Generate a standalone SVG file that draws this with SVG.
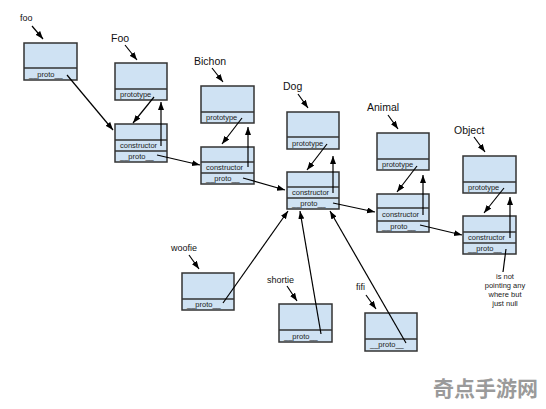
<svg xmlns="http://www.w3.org/2000/svg" width="546" height="409" viewBox="0 0 546 409">
<style>
.box{fill:#cfe2f3;stroke:#333;stroke-width:1.5}
.div{stroke:#333;stroke-width:1.3;fill:none}
.t{font-family:"Liberation Sans",Arial,sans-serif;font-size:7.5px;fill:#222}
.lbl{font-family:"Liberation Sans",Arial,sans-serif;font-size:10.5px;fill:#111}
.lbs{font-family:"Liberation Sans",Arial,sans-serif;font-size:9px;fill:#111}
.note{font-family:"Liberation Sans",Arial,sans-serif;font-size:7.5px;fill:#222;text-anchor:middle}
.c{stroke:#000;stroke-width:1.2;fill:none;marker-end:url(#ah)}
.wm{font-family:"Noto Sans CJK SC",sans-serif;font-size:21px;font-weight:bold;fill:#9a9a9a}
</style>
<defs>
<marker id="ah" markerUnits="userSpaceOnUse" markerWidth="9" markerHeight="7" refX="8" refY="3" orient="auto">
<path d="M0,0 L8,3 L0,6 z" fill="#000"/>
</marker>
</defs>
<rect width="546" height="409" fill="#fff"/>

<g id="foo">
<text class="lbs" x="20" y="21">foo</text>
<rect class="box" x="24" y="43" width="53" height="37"/>
<line class="div" x1="24" y1="68" x2="77" y2="68"/>
<text class="t" x="29" y="77">__proto__</text>
</g>

<g id="Foo">
<text class="lbl" x="111" y="42">Foo</text>
<rect class="box" x="115" y="63" width="52" height="37"/>
<line class="div" x1="115" y1="89" x2="167" y2="89"/>
<text class="t" x="120" y="97">prototype</text>
</g>
<g id="Foo-prototype">
<rect class="box" x="115" y="124" width="52" height="38"/>
<line class="div" x1="115" y1="140" x2="167" y2="140"/>
<line class="div" x1="115" y1="151" x2="167" y2="151"/>
<text class="t" x="120" y="148">constructor</text>
<text class="t" x="120" y="159">__proto__</text>
</g>

<g id="Bichon">
<text class="lbl" x="194" y="65">Bichon</text>
<rect class="box" x="201" y="86" width="53" height="37"/>
<line class="div" x1="201" y1="112" x2="254" y2="112"/>
<text class="t" x="206" y="120">prototype</text>
</g>
<g id="Bichon-prototype">
<rect class="box" x="201" y="147" width="53" height="37"/>
<line class="div" x1="201" y1="162" x2="254" y2="162"/>
<line class="div" x1="201" y1="173" x2="254" y2="173"/>
<text class="t" x="206" y="170">constructor</text>
<text class="t" x="206" y="181">__proto__</text>
</g>

<g id="Dog">
<text class="lbl" x="283" y="90">Dog</text>
<rect class="box" x="287" y="112" width="52" height="37"/>
<line class="div" x1="287" y1="137" x2="339" y2="137"/>
<text class="t" x="292" y="146">prototype</text>
</g>
<g id="Dog-prototype">
<rect class="box" x="287" y="172" width="52" height="37"/>
<line class="div" x1="287" y1="187" x2="339" y2="187"/>
<line class="div" x1="287" y1="198" x2="339" y2="198"/>
<text class="t" x="292" y="195">constructor</text>
<text class="t" x="292" y="206">__proto__</text>
</g>

<g id="Animal">
<text class="lbl" x="367" y="111">Animal</text>
<rect class="box" x="377" y="133" width="52" height="37"/>
<line class="div" x1="377" y1="159" x2="429" y2="159"/>
<text class="t" x="382" y="167">prototype</text>
</g>
<g id="Animal-prototype">
<rect class="box" x="377" y="194" width="52" height="38"/>
<line class="div" x1="377" y1="208" x2="429" y2="208"/>
<line class="div" x1="377" y1="221" x2="429" y2="221"/>
<text class="t" x="382" y="217">constructor</text>
<text class="t" x="382" y="229">__proto__</text>
</g>

<g id="Object">
<text class="lbl" x="454" y="134">Object</text>
<rect class="box" x="463" y="156" width="53" height="37"/>
<line class="div" x1="463" y1="182" x2="516" y2="182"/>
<text class="t" x="468" y="190">prototype</text>
</g>
<g id="Object-prototype">
<rect class="box" x="463" y="216" width="53" height="38"/>
<line class="div" x1="463" y1="232" x2="516" y2="232"/>
<line class="div" x1="463" y1="243" x2="516" y2="243"/>
<text class="t" x="468" y="240">constructor</text>
<text class="t" x="468" y="251">__proto__</text>
</g>

<g id="null-note">
<text class="note" x="505" y="279">is not</text>
<text class="note" x="505" y="288">pointing any</text>
<text class="note" x="505" y="297">where but</text>
<text class="note" x="505" y="306">just null</text>
</g>

<g id="woofie">
<text class="lbs" x="171" y="251">woofie</text>
<rect class="box" x="182" y="273" width="52" height="37"/>
<line class="div" x1="182" y1="299" x2="234" y2="299"/>
<text class="t" x="187" y="307">__proto__</text>
</g>

<g id="shortie">
<text class="lbs" x="267" y="283">shortie</text>
<rect class="box" x="279" y="304" width="53" height="38"/>
<line class="div" x1="279" y1="330" x2="332" y2="330"/>
<text class="t" x="284" y="339">__proto__</text>
</g>

<g id="fifi">
<text class="lbs" x="356" y="290">fifi</text>
<rect class="box" x="365" y="313" width="52" height="38"/>
<line class="div" x1="365" y1="339" x2="417" y2="339"/>
<text class="t" x="370" y="347">__proto__</text>
</g>

<g id="connectors">
<line class="c" x1="32" y1="26" x2="43" y2="39"/>
<line class="c" x1="125" y1="45" x2="137" y2="60"/>
<line class="c" x1="212" y1="68" x2="223" y2="82"/>
<line class="c" x1="298" y1="94" x2="308" y2="108"/>
<line class="c" x1="388" y1="115" x2="398" y2="129"/>
<line class="c" x1="474" y1="137" x2="485" y2="152"/>
<line class="c" x1="189" y1="255" x2="199" y2="269"/>
<line class="c" x1="287" y1="286" x2="297" y2="301"/>
<line class="c" x1="366" y1="295" x2="376" y2="309"/>

<line class="c" x1="67" y1="75" x2="113" y2="130"/>
<line class="c" x1="154" y1="97" x2="133" y2="123"/>
<line class="c" x1="161" y1="146" x2="161" y2="102"/>
<line class="c" x1="157" y1="155" x2="200" y2="165"/>
<line class="c" x1="242" y1="118" x2="222" y2="144"/>
<line class="c" x1="248" y1="167" x2="248" y2="127"/>
<line class="c" x1="243" y1="178" x2="285" y2="190"/>
<line class="c" x1="327" y1="144" x2="307" y2="170"/>
<line class="c" x1="333" y1="193" x2="333" y2="156"/>
<line class="c" x1="333" y1="203" x2="375" y2="212"/>
<line class="c" x1="417" y1="166" x2="397" y2="192"/>
<line class="c" x1="423" y1="215" x2="423" y2="175"/>
<line class="c" x1="420" y1="225" x2="462" y2="235"/>
<line class="c" x1="504" y1="188" x2="484" y2="213"/>
<line class="c" x1="510" y1="238" x2="510" y2="197"/>
<line x1="506" y1="249" x2="503" y2="272" stroke="#000" stroke-width="1.2"/>
<line class="c" x1="223" y1="303" x2="288" y2="211"/>
<line class="c" x1="321" y1="334" x2="300" y2="211"/>
<line class="c" x1="406" y1="343" x2="330" y2="211"/>
</g>

<text class="wm" x="433" y="396">奇点手游网</text>
</svg>
